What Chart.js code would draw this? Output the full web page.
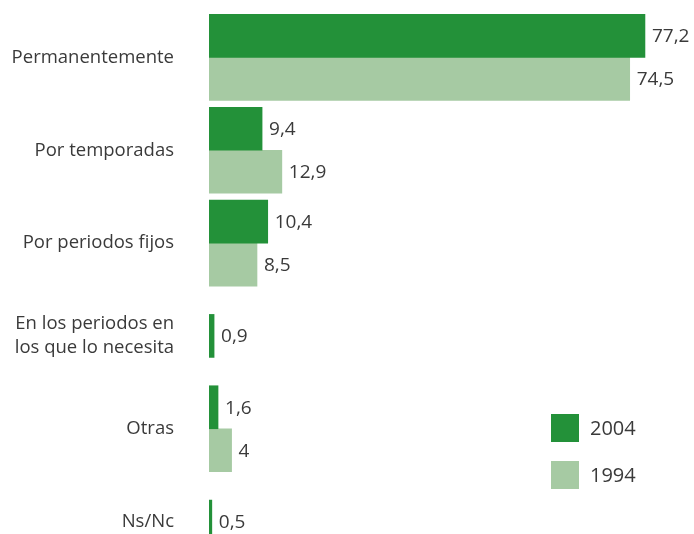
<!DOCTYPE html>
<html><head><meta charset="utf-8">
<script src="https://cdn.jsdelivr.net/npm/chart.js@4"></script>
<style>
html,body{margin:0;padding:0;overflow:hidden;background:#fff;}
#wrap{position:relative;width:694px;height:568px;}
</style></head>
<body><div id="wrap"><canvas id="c"></canvas></div>
<script>
const categories = ['Permanentemente', 'Por temporadas', 'Por periodos fijos', ['En los periodos en', 'los que lo necesita'], 'Otras', 'Ns/Nc'];
const seriesNames = ['2004', '1994'];
const values2004 = [77.2, 9.4, 10.4, 0.9, 1.6, 0.5];
const values1994 = [74.5, 12.9, 8.5, null, 4, null];
const seriesColors = ['#239139', '#a6caa3'];

const FONT = '"Open Sans", "DejaVu Sans", sans-serif';
const TEXT = '#3a3a3a';

const valueLabels = {
  id: 'valueLabels',
  afterDatasetsDraw(chart) {
    const ctx = chart.ctx;
    ctx.save();
    ctx.font = '19px ' + FONT;
    ctx.fillStyle = TEXT;
    ctx.textAlign = 'left';
    ctx.textBaseline = 'middle';
    chart.data.datasets.forEach((ds, di) => {
      const meta = chart.getDatasetMeta(di);
      meta.data.forEach((el, i) => {
        const v = ds.data[i];
        if (v === null || v === undefined) return;
        ctx.fillText(String(v).replace('.', ','), el.x + 7, el.y + 1);
      });
    });
    ctx.restore();
  }
};

const boxLegend = {
  id: 'boxLegend',
  afterDraw(chart) {
    const ctx = chart.ctx;
    ctx.save();
    ctx.font = '20px ' + FONT;
    ctx.textBaseline = 'middle';
    ctx.textAlign = 'left';
    chart.data.datasets.forEach((ds, di) => {
      const y = 414 + di * 47;
      ctx.fillStyle = ds.backgroundColor;
      ctx.fillRect(551, y, 28, 28);
      ctx.fillStyle = TEXT;
      ctx.fillText(ds.label, 590, y + 15);
    });
    ctx.restore();
  }
};

new Chart(document.getElementById('c'), {
  type: 'bar',
  data: {
    labels: categories,
    datasets: [
      { label: seriesNames[0], data: values2004, backgroundColor: seriesColors[0] },
      { label: seriesNames[1], data: values1994, backgroundColor: seriesColors[1] }
    ]
  },
  options: {
    indexAxis: 'y',
    responsive: true,
    maintainAspectRatio: false,
    animation: false,
    layout: { padding: { left: 0, right: 5, top: 11, bottom: 0 } },
    datasets: { bar: { barThickness: 43, skipNull: true, borderWidth: 0 } },
    plugins: { legend: { display: false }, tooltip: { enabled: false } },
    scales: {
      x: { type: 'linear', min: 0, max: 85, display: false },
      y: {
        grid: { display: false, drawTicks: false },
        border: { display: false },
        ticks: { color: TEXT, font: { family: FONT, size: 18.5, lineHeight: 1.3 }, padding: 35 },
        afterFit(scale) { scale.width = 209; scale.paddingTop = 0; scale.paddingBottom = 0; }
      }
    }
  },
  plugins: [valueLabels, boxLegend]
});
</script>
</body></html>
